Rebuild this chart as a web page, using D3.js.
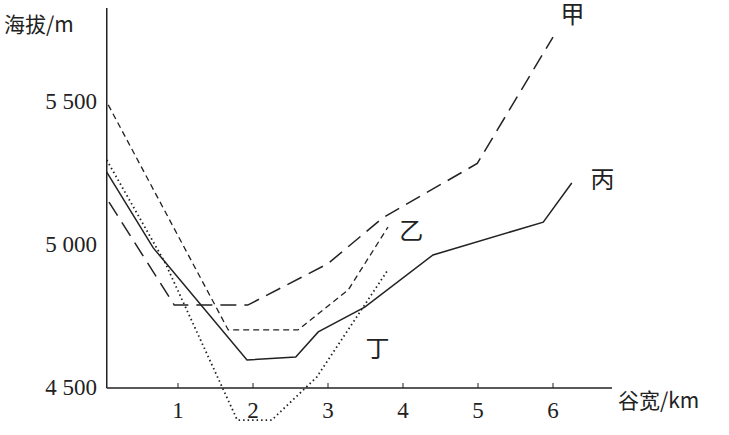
<!DOCTYPE html><html><head><meta charset="utf-8"><script src="https://cdn.jsdelivr.net/npm/d3@7"></script>
<style>body{margin:0;background:#fff}</style></head><body><svg id="c" width="729" height="435"></svg><script>
const xTicks=[1,2,3,4,5,6];
const yTicks=[4500,5000,5500];
const yTickLabels=["4 500","5 000","5 500"];
const jia=[[0.08,5150],[0.95,4790],[1.93,4790],[3.0,4935],[3.73,5095],[4.99,5285],[6.0,5727]];
const yi=[[0.07,5490],[1.67,4703],[2.6,4703],[3.27,4843],[3.8,5063]];
const bing=[[0.05,5255],[0.67,4990],[1.92,4598],[2.57,4608],[2.87,4696],[3.49,4783],[4.4,4965],[5.87,5080],[6.25,5217]];
const ding=[[0.05,5297],[0.83,4937],[1.79,4388],[2.25,4388],[2.85,4538],[3.8,4913]];
const names=["甲","乙","丙","丁"];
const svg=d3.select("#c");
const x=d3.scaleLinear().domain([0,1]).range([103,178]);
const y=d3.scaleLinear().domain([4500,5000]).range([388,245]);
const serif="'Liberation Serif','DejaVu Serif',serif";
const cjk="'Noto Sans CJK SC',sans-serif";
const ink="#222";
svg.append("line").attr("x1",x(0.05)).attr("x2",x(0.05)).attr("y1",8).attr("y2",y(4500)).attr("stroke",ink).attr("stroke-width",1.5);
svg.append("line").attr("x1",x(0.05)).attr("x2",612).attr("y1",y(4500)).attr("y2",y(4500)).attr("stroke",ink).attr("stroke-width",1.5);
svg.selectAll(".xt").data(xTicks).enter().append("line").attr("x1",d=>x(d)).attr("x2",d=>x(d)).attr("y1",y(4500)).attr("y2",y(4500)-5).attr("stroke",ink);
svg.selectAll(".xl").data(xTicks).enter().append("text").attr("x",d=>x(d)).attr("y",418).attr("text-anchor","middle").attr("font-family",serif).attr("font-size",23).attr("fill",ink).text(d=>d);
svg.selectAll(".yl").data(yTicks).enter().append("text").attr("x",97).attr("y",d=>y(d)+7).attr("text-anchor","end").attr("font-family",serif).attr("font-size",23).attr("fill",ink).text((d,i)=>yTickLabels[i]);
svg.append("text").attr("x",4).attr("y",32).attr("font-family",cjk).attr("font-size",21).attr("fill",ink).text("海拔/m");
svg.append("text").attr("x",618).attr("y",408).attr("font-family",cjk).attr("font-size",21).attr("fill",ink).text("谷宽/km");
const line=d3.line().x(d=>x(d[0])).y(d=>y(d[1]));
const series=[[jia,"16,8",1.5],[yi,"6,4",1.3],[bing,null,1.5],[ding,"1.5,3",1.8]];
series.forEach(([d,dash,w])=>{const p=svg.append("path").attr("d",line(d)).attr("fill","none").attr("stroke",ink).attr("stroke-width",w);if(dash)p.attr("stroke-dasharray",dash);});
const labelPos=[[6.1,5775],[3.95,5020],[6.5,5200],[3.5,4610]];
names.forEach((n,i)=>svg.append("text").attr("x",x(labelPos[i][0])).attr("y",y(labelPos[i][1])).attr("font-family",cjk).attr("font-size",24).attr("fill",ink).text(n));
</script></body></html>
